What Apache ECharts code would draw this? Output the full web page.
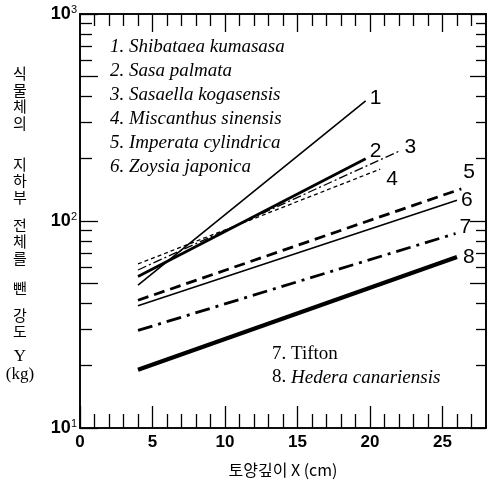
<!DOCTYPE html>
<html>
<head>
<meta charset="utf-8">
<script src="https://cdn.jsdelivr.net/npm/echarts@6/dist/echarts.min.js"></script>
<style>html,body{margin:0;padding:0;background:#fff}#c{width:488px;height:487px}</style>
</head>
<body>
<div id="c"></div>
<script>
// ---- data ----
const lineIds = ['1', '2', '3', '4', '5', '6', '7', '8'];
const xStarts = [4, 4, 4, 4, 4, 4, 4, 4];
const xEnds = [19.7, 19.7, 22.1, 20.7, 26.3, 26.0, 25.9, 26.0];
const yStarts = [49, 54, 58, 62, 41.4, 39, 29.6, 19.1];
const yEnds = [380, 200, 219, 178, 143, 126, 87, 67];
const legendUpper = ['1. Shibataea kumasasa', '2. Sasa palmata', '3. Sasaella kogasensis',
  '4. Miscanthus sinensis', '5. Imperata cylindrica', '6. Zoysia japonica'];
const legendLower = [['7. ', 'Tifton', false], ['8. ', 'Hedera canariensis', true]];
const xMajorTicks = [0, 5, 10, 15, 20, 25];
const xMinorTicks = [1, 2, 3, 4, 6, 7, 8, 9, 11, 12, 13, 14, 16, 17, 18, 19, 21, 22, 23, 24, 26, 27];
const yMajorTicks = [10, 50, 100, 500, 1000];
const yMinorTicks = [20, 30, 40, 60, 70, 80, 90, 200, 300, 400, 600, 700, 800, 900];
const yLabelValues = [10, 100, 1000];
const yTitleGroups = ['식물체의', '지하부', '전체를', '뺀', '강도', 'Y', '(kg)'];
const xTitle = '토양깊이 X (cm)';

// ---- styles ----
const lineStyles = [
  {width: 1.6, type: 'solid'},
  {width: 2.8, type: 'solid'},
  {width: 1.3, type: [9, 3, 2, 3]},
  {width: 1.3, type: [4, 3]},
  {width: 2.8, type: [11, 6]},
  {width: 1.6, type: 'solid'},
  {width: 2.8, type: [15, 6, 3, 6]},
  {width: 4.2, type: 'solid'}
];
const labelOffsets = [[2, -3], [2, -7], [2, -3], [4, 10], [0, -17], [2, 0], [2, -6], [4, 0]];
const yTitleCenters = [98.5, 180.5, 241.5, 288.5, 323.5, 356.5, 375];

const chart = echarts.init(document.getElementById('c'), null, {renderer: 'canvas'});
const axisLine = {show: true, lineStyle: {color: '#000', width: 1.6}};

// Only the first x axis crosses zero, so only the first (left) y axis snaps onto it.
function xAxis(pos, ticks, len, withLabel, minVal, extra) {
  return Object.assign({
    type: 'value', position: pos, min: minVal, max: 28, interval: 1,
    axisLine: axisLine,
    axisTick: {show: true, inside: true, length: len, customValues: ticks, lineStyle: {color: '#000', width: 1.3}},
    axisLabel: withLabel ? {show: true, customValues: xMajorTicks, margin: 6, color: '#000',
      fontFamily: 'Liberation Sans', fontWeight: 'bold', fontSize: 17} : {show: false},
    splitLine: {show: false}
  }, extra || {});
}
function yAxis(pos, ticks, len, withLabel, extra) {
  return Object.assign({
    type: 'log', logBase: 10, position: pos, min: 10, max: 1000,
    axisLine: axisLine,
    axisTick: {show: true, inside: true, length: len, customValues: ticks, lineStyle: {color: '#000', width: 1.3}},
    axisLabel: withLabel ? {show: true, customValues: yLabelValues, margin: 3,
      formatter: v => '{b|10}{s|' + Math.round(Math.log10(v)) + '}',
      rich: {
        b: {fontFamily: 'Liberation Sans', fontWeight: 'bold', fontSize: 18, color: '#000'},
        s: {fontFamily: 'Liberation Sans', fontSize: 11, color: '#000', padding: [0, 0, 9, 0]}
      }} : {show: false},
    splitLine: {show: false},
    minorTick: {show: false}
  }, extra || {});
}

const series = lineIds.map((id, i) => ({
  type: 'line',
  xAxisIndex: 0, yAxisIndex: 0,
  data: [[xStarts[i], yStarts[i]], [xEnds[i], yEnds[i]]],
  showSymbol: false, symbol: 'none', silent: true, animation: false,
  lineStyle: Object.assign({color: '#000', cap: 'butt'}, lineStyles[i]),
  endLabel: {show: true, formatter: id, color: '#000', fontFamily: 'Liberation Sans', fontSize: 21,
    offset: labelOffsets[i], distance: 2}
}));

const graphics = [];
legendUpper.forEach((t, i) => {
  graphics.push({type: 'text', left: 110, top: 37 + i * 24,
    style: {text: t, font: 'italic 19px "Liberation Serif"', fill: '#000'}});
});
legendLower.forEach((p, i) => {
  graphics.push({type: 'text', left: 272, top: 345 + i * 23,
    style: {text: '{n|' + p[0] + '}{' + (p[2] ? 'it' : 'n') + '|' + p[1] + '}',
      rich: {n: {fontFamily: 'Liberation Serif', fontSize: 19, color: '#000'},
             it: {fontFamily: 'Liberation Serif', fontStyle: 'italic', fontSize: 19, color: '#000'}}}});
});
yTitleGroups.forEach((g, i) => {
  const latin = /[A-Za-z(]/.test(g[0]);
  const chars = latin ? [g] : g.split('');
  graphics.push({type: 'text', x: 20, y: yTitleCenters[i],
    style: {text: chars.join('\n'), fill: '#000', align: 'center', verticalAlign: 'middle',
      lineHeight: 16.5,
      font: latin ? '17px "Liberation Serif"' : '15px "Noto Sans CJK KR"'}});
});

chart.setOption({
  animation: false,
  backgroundColor: '#fff',
  grid: {left: 80, right: 2, top: 14, bottom: 59},
  xAxis: [
    xAxis('bottom', xMajorTicks, 22, true, 0, {name: xTitle, nameLocation: 'middle', nameGap: 34,
      nameTextStyle: {fontFamily: '"Noto Sans CJK KR"', fontSize: 16, color: '#000'}}),
    xAxis('bottom', xMinorTicks, 14, false, 1e-6),
    xAxis('top', xMajorTicks, 18, false, 1e-6),
    xAxis('top', xMinorTicks, 12, false, 1e-6)
  ],
  yAxis: [
    yAxis('left', yMajorTicks, 18, true),
    yAxis('left', yMinorTicks, 12, false),
    yAxis('right', yMajorTicks, 16, false),
    yAxis('right', yMinorTicks, 10, false)
  ],
  series: series,
  graphic: graphics
});
</script>
</body>
</html>
